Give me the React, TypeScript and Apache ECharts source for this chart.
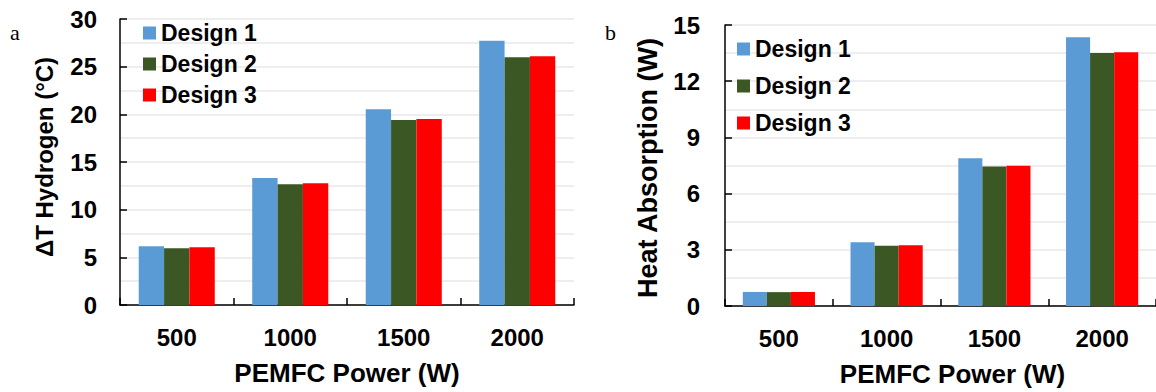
import React, { useEffect, useRef } from "react";
import * as echarts from "echarts";

const categories = ["500", "1000", "1500", "2000"];
const seriesNames = ["Design 1", "Design 2", "Design 3"];
const colors = ["#5B9BD5", "#3A5724", "#FF0000"];

const hydrogenD1 = [6.15, 13.33, 20.53, 27.73];
const hydrogenD2 = [5.95, 12.66, 19.41, 26.0];
const hydrogenD3 = [6.05, 12.77, 19.52, 26.1];

const heatD1 = [0.75, 3.4, 7.89, 14.35];
const heatD2 = [0.74, 3.22, 7.45, 13.5];
const heatD3 = [0.75, 3.24, 7.48, 13.54];

const yTicksA = { min: 0, max: 30, interval: 5 };
const yTicksB = { min: 0, max: 15, interval: 3 };

const FONT = "Liberation Sans, Arial, sans-serif";

export default function App() {
  const ref = useRef<HTMLDivElement>(null);
  useEffect(() => {
    if (!ref.current) return;
    const chart = echarts.init(ref.current, null, { renderer: "svg" });
    const axisLine = { show: true, lineStyle: { color: "#000", width: 1.5 } };
    const tick = { show: true, inside: true, length: 7, lineStyle: { color: "#000", width: 1.5 } };
    const split = { show: true, lineStyle: { color: "#EEEEEE", width: 2 } };
    const tickLabel = { color: "#000", fontFamily: FONT, fontWeight: "bold" as const, fontSize: 24 };

    const mkX = (gridIndex: number, padLeft: number) => ({
      type: "category" as const,
      gridIndex,
      data: categories,
      axisLine,
      axisTick: { ...tick, alignWithLabel: false },
      axisLabel: { ...tickLabel, margin: 20 },
      name: "PEMFC Power (W)",
      nameLocation: "middle" as const,
      nameGap: 55,
      nameTextStyle: { color: "#000", fontFamily: FONT, fontWeight: "bold" as const, fontSize: 26, padding: [0, 0, 0, padLeft] },
    });
    const mkY = (
      gridIndex: number,
      t: { min: number; max: number; interval: number },
      name: string,
      gap: number,
      margin: number,
      nameSize: number,
      pad: number[]
    ) => ({
      type: "value" as const,
      gridIndex,
      min: t.min,
      max: t.max,
      interval: t.interval,
      axisLine,
      axisTick: tick,
      axisLabel: { ...tickLabel, margin },
      splitLine: split,
      minorTick: { show: false, splitNumber: 2 },
      minorSplitLine: split,
      name,
      nameLocation: "middle" as const,
      nameGap: gap,
      nameRotate: 90,
      nameTextStyle: { color: "#000", fontFamily: FONT, fontWeight: "bold" as const, fontSize: nameSize, padding: pad },
    });

    const mkSeries = (data: number[], i: number, axisIndex: number) => ({
      type: "bar" as const,
      name: seriesNames[i],
      xAxisIndex: axisIndex,
      yAxisIndex: axisIndex,
      data,
      barGap: "0%",
      barCategoryGap: "33%",
      itemStyle: { color: colors[i] },
    });

    const legendText = { color: "#000", fontFamily: FONT, fontWeight: "bold" as const, fontSize: 23, lineHeight: 24 };

    chart.setOption({
      animation: false,
      grid: [
        { left: 120, top: 19, width: 454, height: 286, containLabel: false },
        { left: 725, top: 25, width: 431, height: 281, containLabel: false },
      ],
      xAxis: [mkX(0, 0), mkX(1, 24)],
      yAxis: [
        mkY(0, yTicksA, "ΔT Hydrogen (°C)", 64, 23, 24, [0, 0, 0, 10]),
        mkY(1, yTicksB, "Heat Absorption (W)", 64, 25, 27, [0, 5, 0, 0]),
      ],
      legend: [
        {
          orient: "vertical",
          left: 143,
          top: 21,
          padding: 0,
          itemWidth: 13,
          itemHeight: 13,
          itemGap: 7,
          icon: "rect",
          textStyle: legendText,
          data: seriesNames,
          selectedMode: false,
        },
        {
          orient: "vertical",
          left: 737,
          top: 37,
          padding: 0,
          itemWidth: 13,
          itemHeight: 13,
          itemGap: 13,
          icon: "rect",
          textStyle: legendText,
          data: seriesNames,
          selectedMode: false,
        },
      ],
      graphic: [
        { type: "text", left: 10, top: 21, style: { text: "a", font: "22px 'Liberation Serif', serif", fill: "#000" } },
        { type: "text", left: 605, top: 21, style: { text: "b", font: "22px 'Liberation Serif', serif", fill: "#000" } },
      ],
      series: [
        mkSeries(hydrogenD1, 0, 0),
        mkSeries(hydrogenD2, 1, 0),
        mkSeries(hydrogenD3, 2, 0),
        mkSeries(heatD1, 0, 1),
        mkSeries(heatD2, 1, 1),
        mkSeries(heatD3, 2, 1),
      ],
    });
    return () => chart.dispose();
  }, []);
  return <div ref={ref} style={{ position: "absolute", left: 0, top: 0, width: 1156, height: 392, background: "#fff" }} />;
}
